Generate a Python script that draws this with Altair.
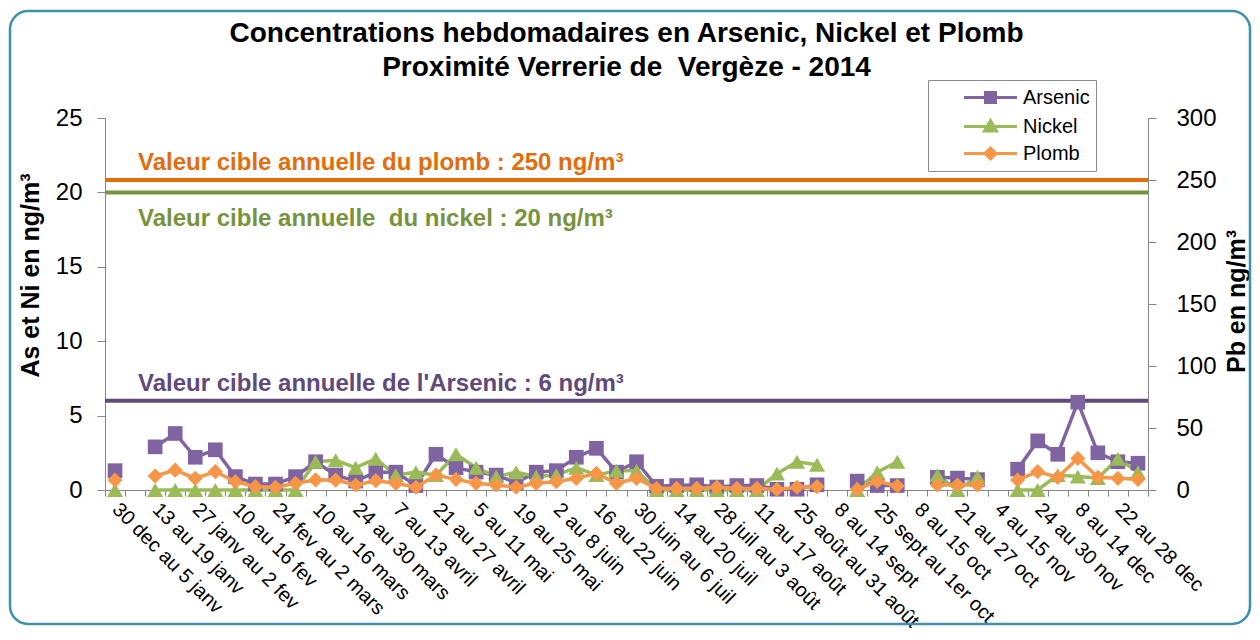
import json
import altair as alt
import pandas as pd

FONT = "Liberation Sans"
NB = "\u00a0"

weeks = [
    "30 dec au 5 janv", "6 au 12 janv", "13 au 19 janv", "20 au 26 janv",
    "27 janv au 2 fev", "3 au 9 fev", "10 au 16 fev", "17 au 23 fev",
    "24 fev au 2 mars", "3 au 9 mars", "10 au 16 mars", "17 au 23 mars",
    "24 au 30 mars", "31 mars au 6 avril", "7 au 13 avril", "14 au 20 avril",
    "21 au 27 avril", "28 avril au 4 mai", "5 au 11 mai", "12 au 18 mai",
    "19 au 25 mai", "26 mai au 1 juin", "2 au 8 juin", "9 au 15 juin",
    "16 au 22 juin", "23 au 29 juin", "30 juin au 6 juil", "7 au 13 juil",
    "14 au 20 juil", "21 au 27 juil", "28 juil au 3 août", "4 au 10 août",
    "11 au 17 août", "18 au 24 août", "25 août au 31 août", "1 au 7 sept",
    "8 au 14 sept", "15 au 21 sept", "25 sept au 1er oct", "2 au 7 oct",
    "8 au 15 oct", "16 au 20 oct", "21 au 27 oct", "28 oct au 3 nov",
    "4 au 15 nov", "16 au 23 nov", "24 au 30 nov", "1 au 7 dec",
    "8 au 14 dec", "15 au 21 dec", "22 au 28 dec", "29 au 31 dec",
]
shown_labels = weeks[::2]

arsenic = [1.3, None, 2.9, 3.8, 2.2, 2.7, 0.9, 0.4, 0.4, 0.9,
           1.9, 1.0, 0.6, 1.2, 1.2, 0.3, 2.4, 1.5, 1.2, 1.0,
           0.5, 1.2, 1.3, 2.2, 2.8, 1.2, 1.9, 0.25, 0.3, 0.35,
           0.2, 0.3, 0.3, 0.05, 0.05, 0.35, None, 0.6, 0.3, 0.3,
           None, 0.85, 0.8, 0.7, None, 1.4, 3.3, 2.4, 5.9, 2.5,
           1.9, 1.8]
nickel = [0, None, 0, 0, 0, 0, 0, 0, 0, 0,
          1.9, 2.0, 1.5, 2.1, 1.0, 1.2, 1.0, 2.4, 1.5, 0.9,
          1.2, 0.9, 1.0, 1.5, 1.0, 1.3, 1.3, 0, 0, 0,
          0, 0, 0, 1.1, 1.9, 1.7, None, 0, 1.2, 1.9,
          None, 1.0, 0, 0.9, None, 0, 0, 1.0, 0.9, 0.8,
          2.1, 1.2]
plomb = [8, None, 11.3, 16, 9.4, 14.8, 6.7, 2.7, 2.2, 5.4,
         8.1, 8.0, 4.0, 7.5, 5.4, 2.2, 12.1, 8.6, 5.4, 4.0,
         2.2, 5.4, 6.7, 9.4, 13.4, 5.4, 9.4, 1.3, 1.3, 1.3,
         2.2, 1.3, 1.3, 0.5, 2.2, 2.7, None, 0.5, 7.0, 3.2,
         None, 4.0, 4.0, 4.0, None, 8.1, 14.8, 10.2, 25.5, 10.2,
         9.4, 8.6]

series_names = ["Arsenic", "Nickel", "Plomb"]
series_colors = ["#8064A2", "#9BBB59", "#F79646"]
series_shapes = ["square", "triangle-up", "diamond"]
series_sizes = [215, 260, 230]
legend_paths = [
    "M-2.65,0H2.65M-0.5,-0.5H0.5V0.5H-0.5Z",
    "M-2.65,0H2.65M0,-0.6L0.6,0.45H-0.6Z",
    "M-2.65,0H2.65M0,-0.55L0.55,0L0,0.55L-0.55,0Z",
]

ref_values = [6, 20, 250]
ref_labels = [
    "Valeur cible annuelle de l'Arsenic : 6 ng/m³",
    "Valeur cible annuelle " + NB + "du nickel : 20 ng/m³",
    "Valeur cible annuelle du plomb : 250 ng/m³",
]
ref_colors = ["#604A7B", "#77933C", "#E46C0A"]
ref_dy = [-10, 34, -10]

title_lines = [
    "Concentrations hebdomadaires en Arsenic, Nickel et Plomb",
    "Proximité Verrerie de " + NB + "Vergèze - 2014",
]


def long_rows(name, vals):
    rows = []
    seg = 0
    for i, v in enumerate(vals):
        if v is None:
            seg += 1
            continue
        rows.append({"week": weeks[i], "series": name, "value": v, "seg": seg})
    return rows


series_data = {
    "Arsenic": pd.DataFrame(long_rows("Arsenic", arsenic)),
    "Nickel": pd.DataFrame(long_rows("Nickel", nickel)),
    "Plomb": pd.DataFrame(long_rows("Plomb", plomb)),
}
df_left = pd.concat([series_data["Arsenic"], series_data["Nickel"]], ignore_index=True)
df_right = series_data["Plomb"]

label_expr = ("indexof(" + json.dumps(shown_labels, ensure_ascii=False)
              + ", datum.value) >= 0 ? datum.value : ''")

x_enc = alt.X(
    "week:N",
    sort=weeks,
    bandPosition=0.5,
    scale=alt.Scale(type="band", domain=weeks, paddingInner=0, paddingOuter=0),
    axis=alt.Axis(
        title=None, labelAngle=45, labelAlign="left", labelBaseline="middle",
        labelFont=FONT, labelFontSize=20, labelColor="black", labelPadding=10,
        labelExpr=label_expr, labelOverlap=False, tickBand="extent",
        tickSize=6, tickColor="#868686", domainColor="#868686", grid=False,
    ),
)

axis_common = dict(
    labelFont=FONT, labelFontSize=24, labelColor="black",
    titleFont=FONT, titleFontSize=25, titleFontWeight="bold", titleColor="black",
    tickSize=8, tickColor="#868686", domainColor="#868686", grid=False,
    titleAngle=270, titleAlign="center", titleBaseline="middle",
)

y_left = alt.Y(
    "value:Q",
    scale=alt.Scale(domain=[0, 25], nice=False, zero=True),
    axis=alt.Axis(title="As et Ni en ng/m³", orient="left", values=[0, 5, 10, 15, 20, 25],
                  labelPadding=15, titleX=-75, titleY=157, **axis_common),
)
y_right = alt.Y(
    "value:Q",
    scale=alt.Scale(domain=[0, 300], nice=False, zero=True),
    axis=alt.Axis(title="Pb en ng/m³", orient="right", values=[0, 50, 100, 150, 200, 250, 300],
                  labelPadding=20, titleX=88, titleY=183, **axis_common),
)

legend = alt.Legend(
    title=None, orient="none", legendX=823, legendY=-38,
    labelFont=FONT, labelFontSize=20, labelColor="black",
    labelExpr="datum.label + '" + NB * 6 + "'",
    symbolSize=400, symbolStrokeWidth=3, symbolOffset=45, labelOffset=21,
    rowPadding=5, padding=6, strokeColor="#8c8c8c", fillColor="white",
    symbolOpacity=1,
)

color_line = alt.Color("series:N", scale=alt.Scale(domain=series_names, range=series_colors),
                       legend=legend)


def ref_layers(i, y_enc):
    d = pd.DataFrame({"value": [ref_values[i]], "label": [ref_labels[i]]})
    rule = alt.Chart(d).mark_rule(color=ref_colors[i], strokeWidth=4).encode(y=y_enc)
    txt = alt.Chart(d).mark_text(
        align="left", baseline="alphabetic", dy=ref_dy[i], font=FONT, fontSize=24,
        fontWeight="bold", color=ref_colors[i],
    ).encode(x=alt.value(33), y=y_enc, text="label:N")
    return [rule, txt]


def point_layer(name, y_enc):
    k = series_names.index(name)
    return alt.Chart(series_data[name]).mark_point(
        shape=series_shapes[k], filled=True, opacity=1, size=series_sizes[k],
        color=series_colors[k],
    ).encode(x=x_enc, y=y_enc)


frame = alt.Chart(pd.DataFrame({"a": [0]})).mark_rect(
    fillOpacity=0, stroke="#3F91AB", strokeWidth=2.5, cornerRadius=18,
).encode(x=alt.value(-95), x2=alt.value(1145), y=alt.value(-107), y2=alt.value(506))

# legend symbols (line + marker) come from this shape scale; the marks themselves have zero size
legend_layer = alt.Chart(pd.DataFrame({"series": series_names})).mark_point(
    filled=True, size=0,
).encode(
    x=alt.value(0), y=alt.value(0),
    fill=alt.Fill("series:N", scale=alt.Scale(domain=series_names, range=series_colors), legend=legend),
    stroke=alt.Stroke("series:N", scale=alt.Scale(domain=series_names, range=series_colors), legend=legend),
    shape=alt.Shape("series:N", scale=alt.Scale(domain=series_names, range=legend_paths), legend=legend),
)

left_lines = alt.Chart(df_left).mark_line(strokeWidth=3.5).encode(
    x=x_enc, y=y_left, color=color_line, detail="seg:N",
)
left_group = alt.layer(
    frame, *ref_layers(0, y_left), *ref_layers(1, y_left), legend_layer, left_lines,
    point_layer("Arsenic", y_left), point_layer("Nickel", y_left),
)

right_lines = alt.Chart(df_right).mark_line(strokeWidth=3.5).encode(
    x=x_enc, y=y_right, color=color_line, detail="seg:N",
)
right_group = alt.layer(*ref_layers(2, y_right), right_lines, point_layer("Plomb", y_right))

chart = alt.layer(left_group, right_group).resolve_scale(y="independent").properties(
    width=1043, height=372,
    autosize=alt.AutoSizeParams(type="none"),
    padding={"left": 97, "top": 110, "right": 104, "bottom": 138},
    title=alt.TitleParams(
        title_lines, font=FONT, fontSize=28, fontWeight="bold", color="black",
        anchor="middle", frame="group", offset=0, dy=72, lineHeight=34,
    ),
).configure_view(strokeWidth=0)

chart.save("out.html", embed_options={"renderer": "svg", "actions": False})
